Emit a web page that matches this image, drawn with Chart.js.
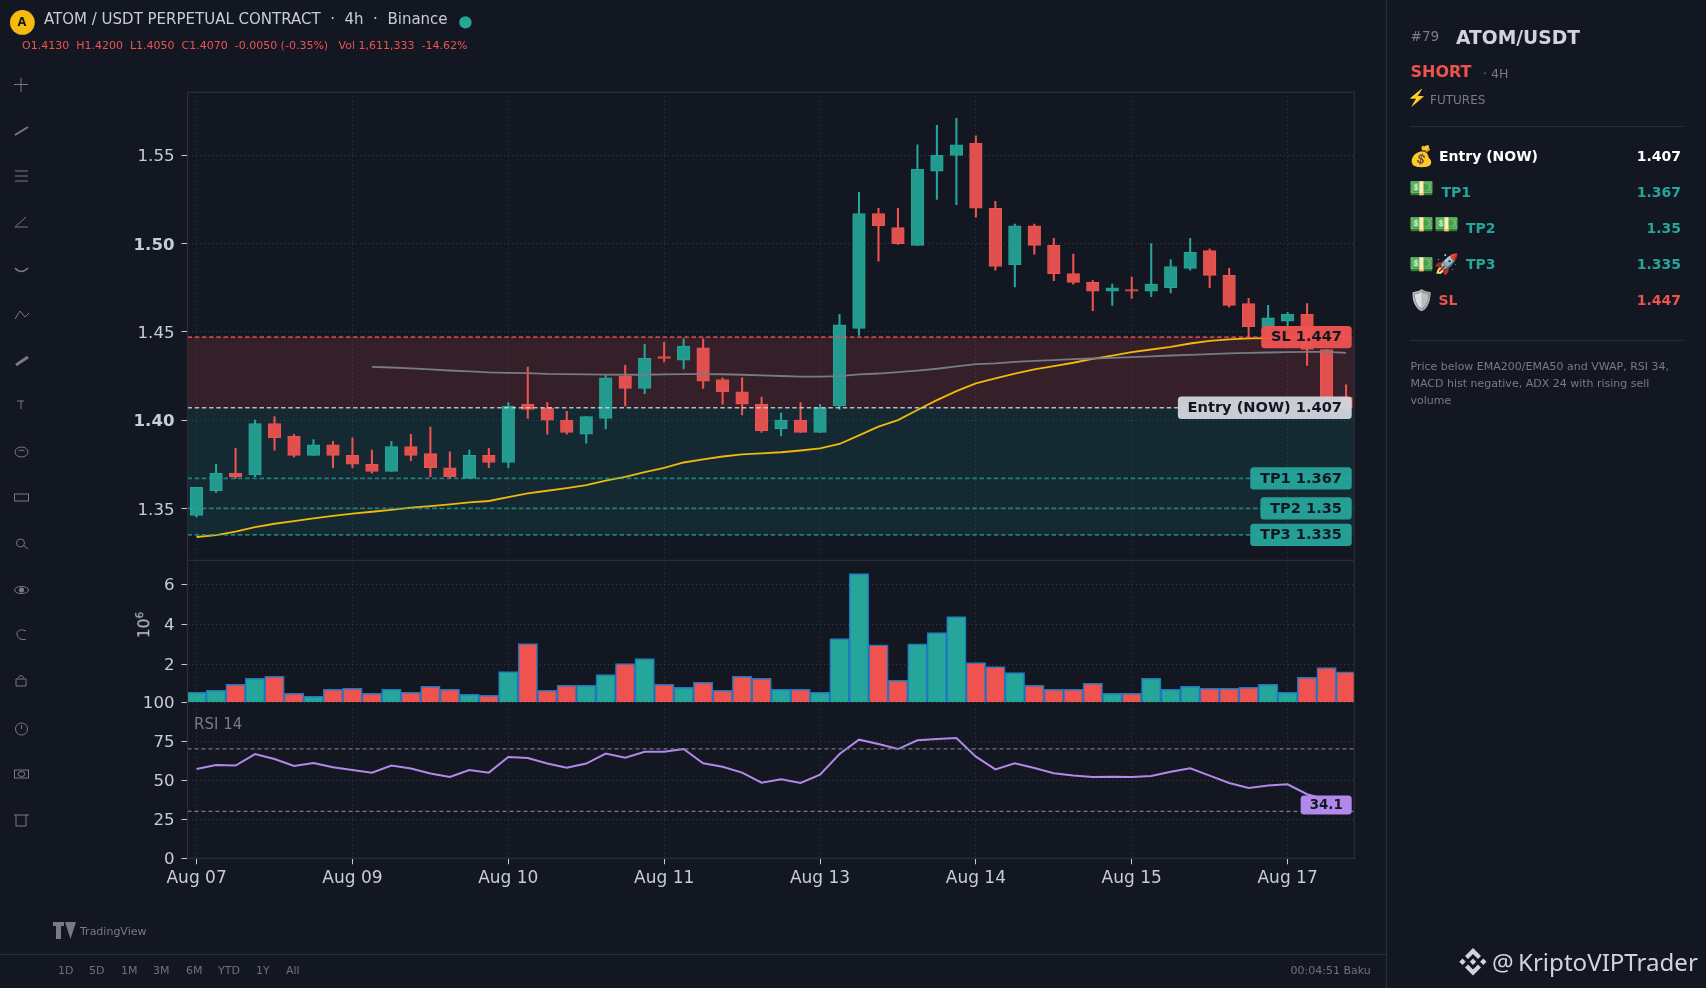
<!DOCTYPE html>
<html><head><meta charset="utf-8">
<script src="https://cdn.jsdelivr.net/npm/chart.js@4/dist/chart.umd.min.js"></script>
<style>
html,body{margin:0;padding:0;width:1706px;height:988px;overflow:hidden;background:#131722;font-family:"DejaVu Sans",sans-serif}
canvas{position:absolute;left:0;top:0}
.t{position:absolute;white-space:nowrap;line-height:1}
.b{font-weight:bold}
.g{color:#787b86}
.e{position:absolute;font-size:20px;line-height:1;white-space:nowrap;font-family:"Noto Color Emoji","DejaVu Sans",sans-serif}
.l{position:absolute;background:#2a2e39}
svg{position:absolute;overflow:visible}
</style></head><body>
<canvas id="c" width="1706" height="988"></canvas>

<div class="l" style="left:1386px;top:0;width:1px;height:988px"></div>
<div class="l" style="left:0;top:954px;width:1386px;height:1px"></div>

<svg style="left:10px;top:10px" width="25" height="25"><circle cx="12.4" cy="12.4" r="12.4" fill="#f5b90f"/></svg>
<div class="t b" style="left:17.5px;top:17px;font-size:11.5px;color:#131722">A</div>
<div class="t" style="left:44px;top:12px;font-size:15px;color:#c8ccd6;white-space:pre">ATOM / USDT PERPETUAL CONTRACT  ·  4h  ·  Binance</div>
<svg style="left:459px;top:16px" width="13" height="13"><circle cx="6.4" cy="6.4" r="6.2" fill="#26a69a"/></svg>
<div class="t" style="left:22px;top:40px;font-size:11px;color:#ef5350;white-space:pre">O1.4130  H1.4200  L1.4050  C1.4070  -0.0050 (-0.35%)   Vol 1,611,333  -14.62%</div>

<svg style="left:0;top:0" width="44" height="860" fill="none" stroke="#787b86" stroke-width="1">
<path d="M21 78v14M14 84.5h14"/>
<path d="M15 135l13-8" stroke-width="2"/>
<path d="M15 171h13M15 176h13M15 181h13"/>
<path d="M15 227h13M15 227l11-10"/>
<path d="M15 268q6 7 13 0" stroke-width="1.5"/>
<path d="M15 319l5-8 5 6 4-4"/>
<path d="M16 365l12-8" stroke-width="3"/>
<path d="M17 401h7M21 401v8"/>
<ellipse cx="21.5" cy="452" rx="6.5" ry="5"/><path d="M18.5 451q3-2 6 0"/>
<rect x="14.5" y="494" width="14" height="7"/>
<circle cx="20.5" cy="543" r="4"/><path d="M24 546l4 3"/>
<ellipse cx="21.5" cy="590" rx="7" ry="3.6"/><circle cx="21.5" cy="590" r="2.2" fill="#787b86"/>
<path d="M26 631q-6-3-9 1.5q-1 4 3 6.5q3 1 6 .5"/>
<path d="M16 679h10v7h-10zM18 678q3-5 6 0"/>
<circle cx="21.5" cy="729" r="6"/><path d="M21.5 725v4"/>
<rect x="14.5" y="770" width="14" height="8"/><ellipse cx="21.5" cy="774" rx="3.5" ry="2.5"/>
<path d="M14 815h15M16 815v11h10v-11"/>
</svg>

<svg style="left:53px;top:922px" width="24" height="17" fill="#787b86"><path d="M0 0h11v4h-3v13h-5v-13h-3zM12 0h11l-5.500 17z"/></svg>
<div class="t g" style="left:80px;top:925.500px;font-size:11px">TradingView</div>

<div class="t" style="left:58px;top:965px;font-size:11px;color:#6f727d">1D</div>
<div class="t" style="left:89px;top:965px;font-size:11px;color:#6f727d">5D</div>
<div class="t" style="left:121px;top:965px;font-size:11px;color:#6f727d">1M</div>
<div class="t" style="left:153px;top:965px;font-size:11px;color:#6f727d">3M</div>
<div class="t" style="left:186px;top:965px;font-size:11px;color:#6f727d">6M</div>
<div class="t" style="left:218px;top:965px;font-size:11px;color:#6f727d">YTD</div>
<div class="t" style="left:256px;top:965px;font-size:11px;color:#6f727d">1Y</div>
<div class="t" style="left:286px;top:965px;font-size:11px;color:#6f727d">All</div>
<div class="t" style="left:1290.500px;top:965px;font-size:11px;color:#6f727d">00:04:51 Baku</div>

<div class="t g" style="left:194px;top:716.500px;font-size:15px">RSI 14</div>
<div class="t" style="left:145px;top:625px;font-size:15.5px;color:#c8ccd6;transform:translate(-50%,-50%) rotate(-90deg)">10<span style="font-size:10.5px;position:relative;top:-6px">6</span></div>

<div class="t g" style="left:1410.500px;top:30px;font-size:13.600px">#79</div>
<div class="t b" style="left:1456px;top:28.500px;font-size:18.700px;color:#d1d4dc">ATOM/USDT</div>
<div class="t b" style="left:1410.500px;top:64px;font-size:16px;color:#ef5350">SHORT</div>
<div class="t g" style="left:1483px;top:67.500px;font-size:12.500px">· 4H</div>
<div class="e" style="left:1407px;top:90px;font-size:16px">⚡</div>
<div class="t g" style="left:1430px;top:93.500px;font-size:12px">FUTURES</div>
<div class="l" style="left:1410px;top:126px;width:273px;height:1px"></div>

<div class="e" style="left:1409px;top:146px">💰</div>
<div class="t b" style="left:1439px;top:149px;font-size:14px;color:#fff">Entry (NOW)</div>
<div class="t b" style="right:25px;top:149px;font-size:14px;color:#fff">1.407</div>
<div class="e" style="left:1409px;top:178px">💵</div>
<div class="t b" style="left:1441.500px;top:185px;font-size:14px;color:#26a69a">TP1</div>
<div class="t b" style="right:25px;top:185px;font-size:14px;color:#26a69a">1.367</div>
<div class="e" style="left:1409px;top:214px">💵💵</div>
<div class="t b" style="left:1466px;top:221px;font-size:14px;color:#26a69a">TP2</div>
<div class="t b" style="right:25px;top:221px;font-size:14px;color:#26a69a">1.35</div>
<div class="e" style="left:1409px;top:254px">💵🚀</div>
<div class="t b" style="left:1466px;top:257px;font-size:14px;color:#26a69a">TP3</div>
<div class="t b" style="right:25px;top:257px;font-size:14px;color:#26a69a">1.335</div>
<div class="e" style="left:1409px;top:290px;filter:grayscale(.85)">🛡️</div>
<div class="t b" style="left:1438.500px;top:293px;font-size:14px;color:#ef5350">SL</div>
<div class="t b" style="right:25px;top:293px;font-size:14px;color:#ef5350">1.447</div>
<div class="l" style="left:1410px;top:340px;width:273px;height:1px"></div>
<div class="t g" style="left:1410.500px;top:357.500px;font-size:11px;line-height:17.200px">Price below EMA200/EMA50 and VWAP, RSI 34,<br>MACD hist negative, ADX 24 with rising sell<br>volume</div>

<svg style="left:1459px;top:948px" width="28" height="28" fill="#d1d4dc">
<path d="M14 0l8 8-3 3-5-5-5 5-3-3zM14 27.500l8-8-3-3-5 5-5-5-3 3zM3.500 10.500l3.200 3.200-3.200 3.200-3.200-3.200zM24.300 10.500l3.200 3.200-3.200 3.200-3.200-3.200zM14 10.500l3.200 3.200-3.200 3.200-3.200-3.200z"/>
</svg>
<div class="t" style="left:1492px;top:950px;font-family:'Noto Sans',sans-serif;font-size:24.100px;color:#d1d4dc">@</div>
<div class="t" style="left:1518px;top:950px;font-family:'Noto Sans',sans-serif;font-size:24.100px;color:#d1d4dc">KriptoVIPTrader</div>

<script>
// ---- candles (index 0 .. 59, one candle = 4h) ----
const opens  = [1.346,1.360,1.370,1.369,1.398,1.391,1.380,1.386,1.380,1.375,1.371,1.385,1.381,1.373,1.367,1.380,1.376,1.409,1.407,1.400,1.392,1.401,1.425,1.418,1.436,1.434,1.441,1.423,1.416,1.409,1.395,1.400,1.393,1.408,1.452,1.517,1.509,1.499,1.541,1.550,1.557,1.520,1.488,1.510,1.499,1.483,1.478,1.473,1.474,1.473,1.475,1.486,1.496,1.482,1.466,1.453,1.456,1.460,1.440,1.413];
const highs  = [1.362,1.375,1.384,1.400,1.402,1.392,1.389,1.388,1.390,1.383,1.388,1.392,1.396,1.382,1.383,1.384,1.410,1.430,1.410,1.405,1.402,1.426,1.431,1.443,1.444,1.446,1.446,1.424,1.424,1.413,1.404,1.410,1.409,1.460,1.529,1.520,1.520,1.556,1.567,1.571,1.561,1.524,1.511,1.511,1.503,1.494,1.479,1.477,1.481,1.500,1.491,1.503,1.497,1.486,1.469,1.465,1.461,1.466,1.440,1.420];
const lows   = [1.345,1.359,1.367,1.368,1.383,1.379,1.380,1.373,1.373,1.370,1.371,1.377,1.368,1.367,1.367,1.373,1.373,1.401,1.392,1.392,1.387,1.395,1.408,1.415,1.433,1.429,1.418,1.409,1.403,1.393,1.391,1.393,1.393,1.406,1.448,1.490,1.4995,1.499,1.525,1.522,1.515,1.485,1.4755,1.494,1.479,1.477,1.462,1.465,1.469,1.470,1.472,1.485,1.475,1.464,1.446,1.447,1.452,1.431,1.408,1.405];
const closes = [1.362,1.370,1.368,1.398,1.390,1.380,1.386,1.380,1.375,1.371,1.385,1.380,1.373,1.368,1.380,1.376,1.408,1.406,1.400,1.393,1.402,1.424,1.418,1.435,1.435,1.442,1.422,1.416,1.409,1.394,1.400,1.393,1.407,1.454,1.517,1.510,1.500,1.542,1.550,1.556,1.520,1.487,1.510,1.499,1.483,1.478,1.473,1.475,1.473,1.477,1.487,1.495,1.482,1.465,1.453,1.458,1.460,1.440,1.413,1.407];
const volumes = [580000,680000,980000,1280000,1380000,530000,380000,730000,780000,530000,730000,580000,880000,730000,480000,430000,1630000,3030000,680000,930000,930000,1480000,2030000,2280000,980000,830000,1080000,680000,1380000,1280000,730000,730000,580000,3280000,6530000,2970000,1180000,3020000,3580000,4380000,2080000,1880000,1580000,930000,730000,730000,1030000,530000,530000,1280000,730000,880000,780000,780000,830000,980000,580000,1330000,1830000,1611333];
const emaValues = [1.3338,1.3349,1.3368,1.3394,1.3413,1.3428,1.3443,1.3458,1.3470,1.3481,1.3492,1.3504,1.3513,1.3523,1.3534,1.3542,1.3564,1.3585,1.3600,1.3615,1.3632,1.3657,1.3679,1.3705,1.3729,1.3760,1.3778,1.3794,1.3806,1.3812,1.3818,1.3828,1.3840,1.3865,1.3914,1.3963,1.4000,1.4057,1.4113,1.4164,1.4208,1.4236,1.4264,1.4287,1.4306,1.4325,1.4347,1.4366,1.4385,1.4400,1.4415,1.4434,1.4449,1.4457,1.4463,1.4465,1.4468,1.4470,1.4472,1.4474];
const vwapStart = 9;
const vwapValues = [1.4302,1.4298,1.4293,1.4287,1.4281,1.4276,1.4270,1.4268,1.4266,1.4262,1.4261,1.4259,1.4258,1.4257,1.4257,1.4259,1.4261,1.4261,1.4260,1.4257,1.4253,1.4250,1.4247,1.4246,1.4249,1.4259,1.4264,1.4272,1.4281,1.4291,1.4304,1.4317,1.4321,1.4330,1.4336,1.4340,1.4346,1.4349,1.4353,1.4357,1.4361,1.4366,1.4370,1.4374,1.4378,1.4381,1.4383,1.4385,1.4387,1.4387,1.4381];
const rsiValues = [57.1,59.7,59.3,66.7,63.5,59.1,61,58.2,56.5,54.8,59.3,57.4,54.2,52,56.5,54.8,64.8,64.2,60.6,58,60.6,67,64.4,68.2,68.2,69.9,60.8,58.6,54.8,48.4,50.5,48.2,53.5,66.7,75.9,73.1,69.9,75.5,76.3,77,65,56.9,60.8,57.8,54.4,52.9,52,52.2,52,52.7,55.4,57.6,52.9,48.2,45,46.5,47.3,41,37.5,34.1];

// ---- axes ----
const xTickIndex  = [0,8,16,24,32,40,48,56];
const xTickLabels = ['Aug 07','Aug 09','Aug 10','Aug 11','Aug 13','Aug 14','Aug 15','Aug 17'];
const priceTicks = [1.35,1.40,1.45,1.50,1.55];
const boldPriceTicks = [1.40,1.50];
const volTicks = [100000,2000000,4000000,6000000];
const volTickLabels = ['100','2','4','6'];
const rsiTicks = [0,25,50,75];
const rsiGuides = [70,30];

// ---- trade levels ----
const levelNames  = ['SL','Entry (NOW)','TP1','TP2','TP3'];
const levelValues = [1.447,1.407,1.367,1.35,1.335];
const levelColors = ['#ef5350','#d1d4dc','#26a69a','#26a69a','#26a69a'];
const levelLines  = ['rgba(239,83,80,.8)','rgba(209,212,220,.85)','rgba(38,166,154,.7)','rgba(38,166,154,.7)','rgba(38,166,154,.7)'];

const GREEN='#26a69a', RED='#ef5350', TEXT='#c8ccd6', GRID='#363a45', FRAME='#2a2e39';
const X_MIN=-0.467, X_MAX=59.424;
const idx = opens.map((_,i)=>i);
const candleColor = idx.map(i=>closes[i]>=opens[i]?GREEN:RED);
const bodyColor = idx.map(i=>closes[i]>=opens[i]?'#239a8e':'#e0504e');

function hline(v,color,axis,width,dash){
  return {type:'line',yAxisID:axis,data:[{x:X_MIN,y:v},{x:X_MAX,y:v}],borderColor:color,borderWidth:width,borderDash:dash,pointRadius:0,order:1};
}
const zonesPlugin={id:'zones',beforeDatasetsDraw(ch){
  const {ctx,chartArea:a,scales:{price}}=ch;
  const ySL=price.getPixelForValue(levelValues[0]), yE=price.getPixelForValue(levelValues[1]), yT=price.getPixelForValue(levelValues[4]);
  ctx.save();
  ctx.fillStyle='rgba(239,83,80,.16)'; ctx.fillRect(a.left,ySL,a.right-a.left,yE-ySL);
  ctx.fillStyle='rgba(38,166,154,.133)'; ctx.fillRect(a.left,yE,a.right-a.left,yT-yE);
  ctx.restore();
}};
const labelsPlugin={id:'labels',afterDatasetsDraw(ch){
  const {ctx,chartArea:a,scales:{price,rsi}}=ch;
  const box=(txt,cy,fill,font,h,pad,alpha)=>{
    ctx.font=font; ctx.textAlign='right'; ctx.textBaseline='middle';
    const w=ctx.measureText(txt).width+pad*2, r=a.right-2.6;
    ctx.globalAlpha=alpha; ctx.fillStyle=fill;
    ctx.beginPath(); ctx.roundRect(r-w,cy-h/2,w,h,3.5); ctx.fill();
    ctx.globalAlpha=1; ctx.fillStyle='#131722'; ctx.fillText(txt,r-pad,cy+.5);
  };
  ctx.save();
  levelNames.forEach((n,i)=>box(n+' '+levelValues[i],price.getPixelForValue(levelValues[i]),levelColors[i],'bold 14.6px "DejaVu Sans"',22.3,9.7,.96));
  box(rsiValues[rsiValues.length-1].toFixed(1),rsi.getPixelForValue(rsiValues[rsiValues.length-1]),'#b388eb','bold 13.4px "DejaVu Sans"',19,9,1);
  // pane frame
  ctx.strokeStyle=FRAME; ctx.lineWidth=1.2;
  ctx.strokeRect(a.left,a.top,a.right-a.left,a.bottom-a.top);
  ctx.beginPath(); ctx.moveTo(a.left,price.bottom); ctx.lineTo(a.right,price.bottom); ctx.stroke();
  ctx.restore();
}};

Chart.defaults.font.family='"DejaVu Sans"';
const yAxis=(extra)=>Object.assign({
  position:'left',stack:'panes',
  grid:{color:GRID,lineWidth:1,tickLength:6,tickColor:TEXT,tickBorderDash:[],tickBorderDashOffset:0,drawTicks:true},
  border:{color:FRAME,dash:[1,3],width:1},
  afterFit(s){s.width=187.5}
},extra);

new Chart(document.getElementById('c'),{
  type:'bar',
  plugins:[zonesPlugin,labelsPlugin],
  data:{datasets:[
    {label:'Volume',yAxisID:'vol',data:idx.map(i=>({x:i,y:volumes[i]})),backgroundColor:candleColor,borderColor:'#1f78c0',borderWidth:1.5,barThickness:19.5,grouped:false,order:4},
    {label:'Wicks',yAxisID:'price',data:idx.map(i=>({x:i,y:[lows[i],highs[i]]})),backgroundColor:candleColor,borderWidth:0,borderSkipped:false,barThickness:1.4,grouped:false,order:3},
    {label:'Bodies',yAxisID:'price',data:idx.map(i=>({x:i,y:[opens[i],closes[i]]})),backgroundColor:bodyColor,borderColor:candleColor,borderWidth:1,borderSkipped:false,barThickness:12.6,grouped:false,order:2},
    ...levelValues.map((v,i)=>hline(v,levelLines[i],'price',1.6,[4.5,2.7])),
    ...rsiGuides.map(v=>hline(v,'#787b86','rsi',1.3,[4,3])),
    {type:'line',label:'VWAP',yAxisID:'price',data:vwapValues.map((y,i)=>({x:i+vwapStart,y})),borderColor:'#787b86',borderWidth:1.8,pointRadius:0,order:1},
    {type:'line',label:'EMA',yAxisID:'price',data:emaValues.map((y,i)=>({x:i,y})),borderColor:'#f0b90b',borderWidth:1.8,pointRadius:0,order:1},
    {type:'line',label:'RSI',yAxisID:'rsi',data:rsiValues.map((y,i)=>({x:i,y})),borderColor:'#b388eb',borderWidth:2,pointRadius:0,order:1}
  ]},
  options:{
    responsive:false,animation:false,devicePixelRatio:1,events:[],
    layout:{padding:{left:0,top:92.3,right:351.7,bottom:0}},
    plugins:{legend:{display:false},tooltip:{enabled:false},title:{display:false}},
    scales:{
      x:{type:'linear',position:'bottom',min:X_MIN,max:X_MAX,offset:false,
        afterBuildTicks(s){s.ticks=xTickIndex.map(value=>({value}))},
        afterFit(s){s.height=988-858.3},
        grid:{color:GRID,tickLength:6,tickColor:TEXT,tickBorderDash:[],offset:false},
        border:{color:FRAME,dash:[1,3],width:1},
        ticks:{color:TEXT,font:{size:17},padding:4,autoSkip:false,maxRotation:0,callback:v=>xTickLabels[xTickIndex.indexOf(v)]}
      },
      price:yAxis({weight:3,stackWeight:468,min:1.3206,max:1.5857,
        afterBuildTicks(s){s.ticks=priceTicks.map(value=>({value}))},
        ticks:{color:TEXT,padding:7,labelOffset:1.8,autoSkip:false,callback:v=>v.toFixed(2),
          font:c=>({size:16.6,weight:c.tick&&boldPriceTicks.some(b=>Math.abs(b-c.tick.value)<1e-6)?'bold':'normal'})}
      }),
      vol:yAxis({weight:2,stackWeight:141.7,min:100000,max:7200000,
        afterBuildTicks(s){s.ticks=volTicks.map(value=>({value}))},
        ticks:{color:TEXT,padding:7,labelOffset:1.5,autoSkip:false,font:{size:16.6},callback:v=>volTickLabels[volTicks.indexOf(v)]}
      }),
      rsi:yAxis({weight:1,stackWeight:156.3,min:0,max:100,
        afterBuildTicks(s){s.ticks=rsiTicks.map(value=>({value}))},
        ticks:{color:TEXT,padding:7,labelOffset:1.5,autoSkip:false,font:{size:16.6},callback:v=>String(v)}
      })
    }
  }
});
</script>
</body></html>
